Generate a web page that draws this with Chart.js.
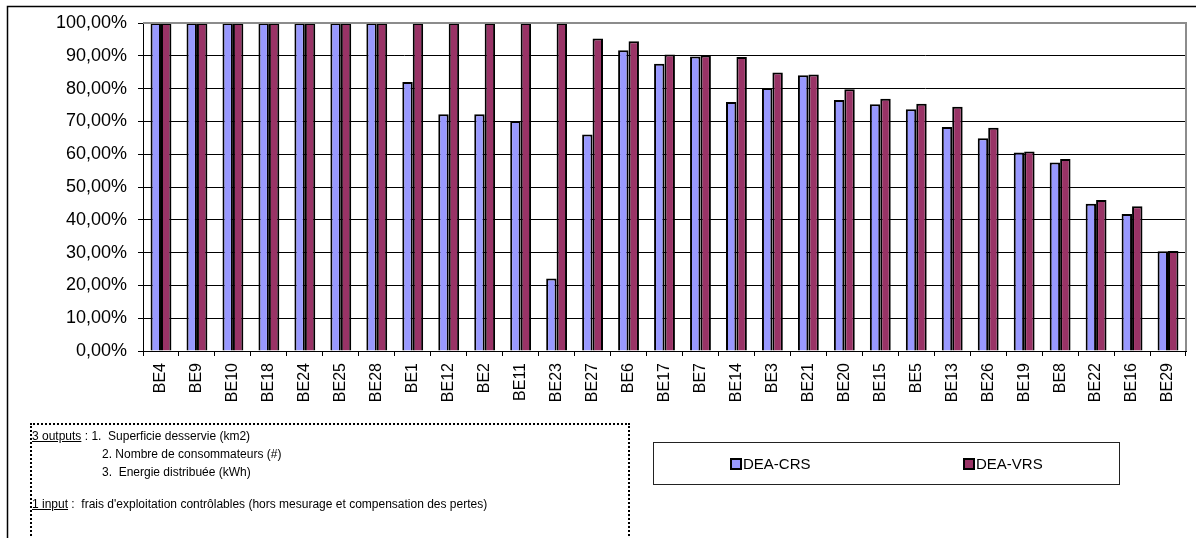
<!DOCTYPE html>
<html>
<head>
<meta charset="utf-8">
<script src="https://cdn.jsdelivr.net/npm/chart.js@4"></script>
<style>
  html, body { margin: 0; padding: 0; background: #fff; }
  #wrap { position: relative; width: 1196px; height: 538px; overflow: hidden; font-family: "Liberation Sans", Arial, sans-serif; }
  canvas { position: absolute; left: 0; top: 0; }
  #note { position: absolute; left: 30px; top: 423px; width: 596px; height: 140px; border: 2px dotted #000; font-size: 12px; color: #000; }
  #note div { position: absolute; white-space: pre; }
  #legend { position: absolute; left: 653px; top: 442px; width: 465px; height: 41px; border: 1px solid #222; font-size: 15px; }
  .item { position: absolute; top: 12px; white-space: nowrap; }
  .sw { display: inline-block; width: 8px; height: 8px; border: 2px solid #000; margin-right: 1px; vertical-align: -1px; }
</style>
</head>
<body>
<div id="wrap">
  <canvas id="c" width="1196" height="538"></canvas>
  <div id="note">
    <div style="left:0px; top:4px;"><u>3 outputs</u> : 1.  Superficie desservie (km2)</div>
    <div style="left:70px; top:22px;">2. Nombre de consommateurs (#)</div>
    <div style="left:70px; top:40px;">3.  Energie distribuée (kWh)</div>
    <div style="left:0px; top:72px;"><u>1 input</u> :  frais d'exploitation contrôlables (hors mesurage et compensation des pertes)</div>
  </div>
  <div id="legend">
    <div class="item" style="left:76px;"><span class="sw" id="sw0"></span><span id="lb0"></span></div>
    <div class="item" style="left:309px;"><span class="sw" id="sw1"></span><span id="lb1"></span></div>
  </div>
</div>
<script>
// Distribution system operators, ranked by DEA efficiency score
const categories = ["BE4","BE9","BE10","BE18","BE24","BE25","BE28","BE1","BE12","BE2","BE11","BE23","BE27","BE6","BE17","BE7","BE14","BE3","BE21","BE20","BE15","BE5","BE13","BE26","BE19","BE8","BE22","BE16","BE29"];

// Efficiency scores (%), constant returns to scale
const deaCrs = [100,100,100,100,100,100,100,82.0,72.2,72.2,70.1,22.1,66.0,91.7,87.6,89.8,75.9,80.2,84.1,76.5,75.2,73.7,68.3,64.9,60.5,57.5,44.9,41.8,30.4];

// Efficiency scores (%), variable returns to scale
const deaVrs = [100,100,100,100,100,100,100,100,100,100,100,100,95.3,94.4,90.4,90.1,89.6,84.9,84.3,79.8,76.9,75.4,74.5,68.1,60.8,58.5,46.0,44.1,30.5];

const seriesNames = ["DEA-CRS", "DEA-VRS"];
const seriesColors = ["#9999FF", "#993366"];

// y-axis tick values (%)
const yTicks = [0,10,20,30,40,50,60,70,80,90,100];

const FONT = "'Liberation Sans', Arial, sans-serif";

// legend swatches
seriesNames.forEach((n, i) => {
  document.getElementById('lb' + i).textContent = n;
  document.getElementById('sw' + i).style.background = seriesColors[i];
});

// outer frame and plot-area border
const framePlugin = {
  id: 'frame',
  beforeDraw(chart) {
    const ctx = chart.ctx;
    ctx.save();
    ctx.strokeStyle = '#000';
    ctx.lineWidth = 1.5;
    ctx.beginPath();
    ctx.moveTo(7.5, 538);
    ctx.lineTo(7.5, 6.5);
    ctx.lineTo(1196, 6.5);
    ctx.stroke();
    ctx.restore();
  },
  afterDatasetsDraw(chart) {
    const { ctx, chartArea: a } = chart;
    ctx.save();
    ctx.strokeStyle = '#8c8c8c';
    ctx.lineWidth = 2;
    ctx.beginPath();
    ctx.moveTo(a.left, a.top);
    ctx.lineTo(a.right, a.top);
    ctx.lineTo(a.right, a.bottom);
    ctx.stroke();
    ctx.restore();
  }
};

new Chart(document.getElementById('c'), {
  type: 'bar',
  data: {
    labels: categories,
    datasets: [
      { label: seriesNames[0], data: deaCrs, backgroundColor: seriesColors[0], borderColor: '#000', borderWidth: 2 },
      { label: seriesNames[1], data: deaVrs, backgroundColor: seriesColors[1], borderColor: '#000', borderWidth: 2 }
    ]
  },
  options: {
    responsive: false,
    animation: false,
    devicePixelRatio: 1,
    layout: { padding: { left: 0, top: 23, right: 10, bottom: 87 } },
    plugins: { legend: { display: false }, tooltip: { enabled: false } },
    datasets: { bar: { categoryPercentage: 0.58, barPercentage: 1.0 } },
    scales: {
      x: {
        grid: { display: true, drawOnChartArea: false, drawTicks: true, tickLength: 5, offset: true, color: '#000', lineWidth: 1 },
        border: { display: true, color: '#000', width: 1 },
        ticks: { minRotation: 90, maxRotation: 90, autoSkip: false, color: '#000', padding: 7, font: { family: FONT, size: 16 } },
        afterFit(s) { s.height = 100; }
      },
      y: {
        min: 0, max: 100,
        afterBuildTicks(s) { s.ticks = yTicks.map(v => ({ value: v })); },
        grid: { color: '#000', lineWidth: 1, tickLength: 5 },
        border: { display: true, color: '#000', width: 1 },
        ticks: {
          color: '#000', padding: 11,
          font: { family: FONT, size: 18 },
          callback: v => v.toFixed(2).replace('.', ',') + '%'
        },
        afterFit(s) { s.width = 143; }
      }
    }
  },
  plugins: [framePlugin]
});
</script>
</body>
</html>
